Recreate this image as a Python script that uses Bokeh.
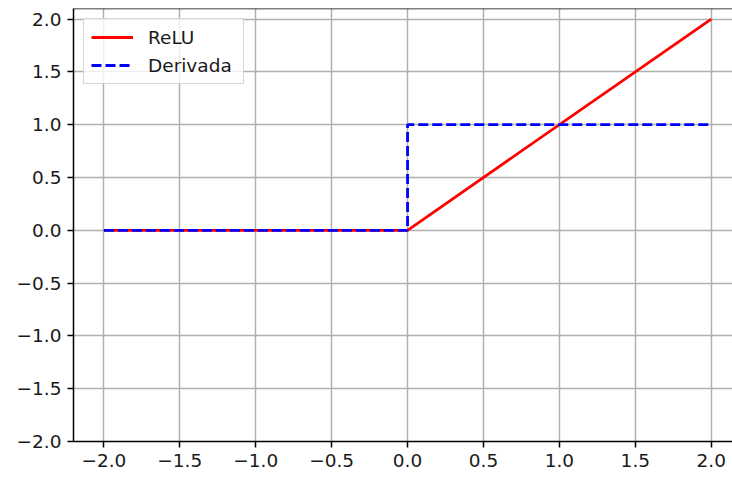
from bokeh.plotting import figure
from bokeh.models import FixedTicker, Span, Range1d
from bokeh.embed import file_html
from bokeh.resources import INLINE

# Data
x_vals = [-2.0, 0.0, 2.0]
relu_vals = [0.0, 0.0, 2.0]
deriv_x = [-2.0, 0.0, 0.0, 2.0]
deriv_vals = [0.0, 0.0, 1.0, 1.0]
tick_vals = [-2.0, -1.5, -1.0, -0.5, 0.0, 0.5, 1.0, 1.5, 2.0]
tick_labels = ["\u22122.0", "\u22121.5", "\u22121.0", "\u22120.5", "0.0", "0.5", "1.0", "1.5", "2.0"]

FONT = "DejaVu Sans"
FS = "18.5px"

p = figure(width=732, height=477, output_backend="svg", toolbar_location=None,
           x_range=Range1d(-2.2, 2.14), y_range=Range1d(-2.0, 2.1),
           min_border_left=73, min_border_right=0, min_border_top=8, min_border_bottom=36,
           background_fill_color="white", border_fill_color="white")
p.outline_line_color = None

overrides = {v: l for v, l in zip(tick_vals, tick_labels)}
for ax in (p.xaxis[0], p.yaxis[0]):
    ax.ticker = FixedTicker(ticks=tick_vals)
    ax.major_label_overrides = overrides
    ax.major_label_text_font = FONT
    ax.major_label_text_font_size = FS
    ax.major_label_text_color = "#1a1a1a"
    ax.axis_line_color = "black"
    ax.axis_line_width = 1.5
    ax.major_tick_line_color = "black"
    ax.major_tick_line_width = 1.5
    ax.major_tick_out = 6
    ax.major_tick_in = 0
    ax.minor_tick_line_color = None
    ax.major_label_standoff = 6

for g in (p.xgrid[0], p.ygrid[0]):
    g.ticker = FixedTicker(ticks=tick_vals)
    g.grid_line_color = "#b0b0b0"
    g.grid_line_width = 1.5

top = Span(location=p.y_range.end, dimension="width", line_color="black", line_width=1.5)
p.add_layout(top)

p.line(x_vals, relu_vals, line_color="#ff0000", line_width=2.8, legend_label="ReLU")
p.line(deriv_x, deriv_vals, line_color="#0000ff", line_width=2.8, line_dash="10 4",
       legend_label="Derivada")

lg = p.legend[0]
lg.location = "top_left"
lg.margin = 10
lg.padding = 7
lg.spacing = 6
lg.glyph_width = 42
lg.glyph_height = 22
lg.label_height = 22
lg.label_width = 88
lg.label_standoff = 15
lg.label_text_font = FONT
lg.label_text_font_size = FS
lg.label_text_color = "#1a1a1a"
lg.border_line_color = "#cccccc"
lg.border_line_alpha = 0.8
lg.border_line_width = 1.5
lg.background_fill_alpha = 0.8

open("out.html", "w").write(file_html(p, INLINE))
